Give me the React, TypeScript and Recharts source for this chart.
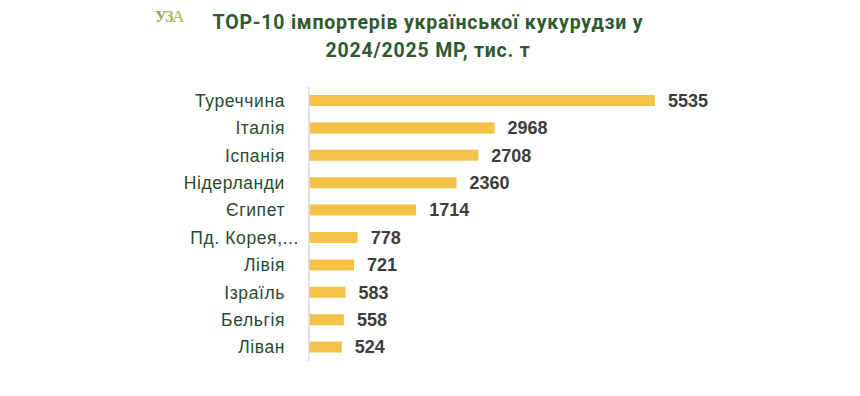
import React from 'react';
import { BarChart, Bar, XAxis, YAxis, LabelList } from 'recharts';

const countries = ['Туреччина', 'Італія', 'Іспанія', 'Нідерланди', 'Єгипет', 'Пд. Корея,...', 'Лівія', 'Ізраїль', 'Бельгія', 'Ліван'];
const volumes = [5535, 2968, 2708, 2360, 1714, 778, 721, 583, 558, 524];
const titleLines = ['ТОР-10 імпортерів української кукурудзи у', '2024/2025 МР, тис. т'];
const logoText = 'УЗА';

const data = countries.map((name, i) => ({ name, value: volumes[i] }));

const CategoryTick = (props: any) => {
  const { x, y, payload } = props;
  const truncated = String(payload.value).endsWith('...');
  return (
    <text
      x={truncated ? x - 2 : x - 16}
      y={y}
      dy={6}
      textAnchor="end"
      fill="#2b4a2e"
      fontSize={17.5}
      fontFamily="Liberation Sans, Arial, sans-serif"
      letterSpacing={0.6}
    >
      {payload.value}
    </text>
  );
};

export default function App() {
  return (
    <div style={{ position: 'absolute', left: 0, top: 0, width: 860, height: 396, background: '#fff' }}>
      <svg width={860} height={70} style={{ position: 'absolute', left: 0, top: 0 }}>
        <defs>
          <linearGradient id="logoGrad" x1="0" y1="0" x2="1" y2="0">
            <stop offset="0%" stopColor="#7ea848" />
            <stop offset="100%" stopColor="#c4cc66" />
          </linearGradient>
        </defs>
        <text x={155} y={22} fill="url(#logoGrad)" fontSize={16} fontWeight="bold" fontFamily="Liberation Serif, serif" letterSpacing={-1.2}>
          {logoText}
        </text>
        {titleLines.map((t, i) => (
          <text
            key={i}
            x={428}
            y={29 + i * 28}
            textAnchor="middle"
            fill="#2f5a30"
            fontSize={19.5}
            fontWeight="bold"
            fontFamily="Roboto, Inter, sans-serif"
            letterSpacing={0.8}
          >
            {t}
          </text>
        ))}
      </svg>
      <div style={{ position: 'absolute', left: 0, top: 0 }}>
        <BarChart
          width={860}
          height={396}
          data={data}
          layout="vertical"
          margin={{ top: 87, right: 176, bottom: 35, left: 0 }}
          barCategoryGap={8}
        >
          <XAxis type="number" domain={[0, 6000]} hide />
          <YAxis
            type="category"
            dataKey="name"
            width={309}
            axisLine={{ stroke: '#d6d6de', strokeWidth: 1.5 }}
            tickLine={false}
            tick={<CategoryTick />}
            interval={0}
          />
          <Bar dataKey="value" fill="#f4c244" barSize={11} isAnimationActive={false}>
            <LabelList
              dataKey="value"
              position="right"
              offset={13}
              fill="#3d3d3d"
              fontSize={18}
              fontWeight="bold"
              fontFamily="Liberation Sans, Arial, sans-serif"
            />
          </Bar>
        </BarChart>
      </div>
    </div>
  );
}
